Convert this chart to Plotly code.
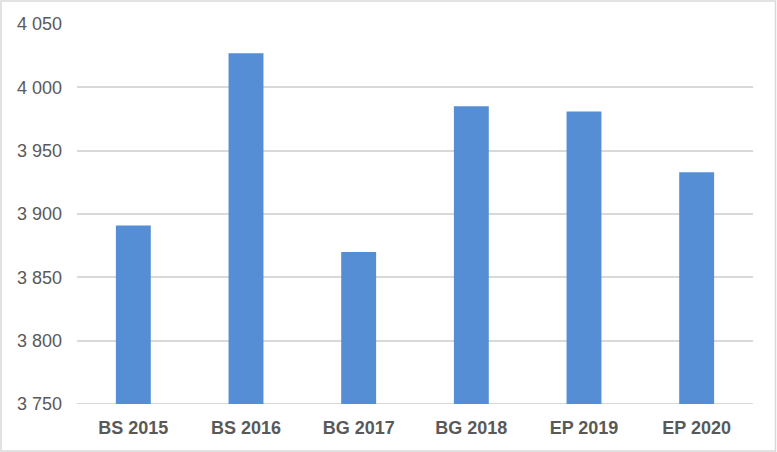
import plotly.graph_objects as go

# values
categories = ['BS 2015', 'BS 2016', 'BG 2017', 'BG 2018', 'EP 2019', 'EP 2020']
values = [3891, 4027, 3870, 3985, 3981, 3933]

W, H = 777, 452
ML, MR, MT, MB = 77, 24, 24, 48
pw = W - ML - MR
ph = H - MT - MB

fig = go.Figure(go.Bar(
    x=categories,
    y=values,
    marker_color='#558ed5',
    marker_line_width=0,
    hoverinfo='x+y',
))

fig.update_layout(
    width=W,
    height=H,
    margin=dict(l=ML, r=MR, t=MT, b=MB),
    paper_bgcolor='white',
    plot_bgcolor='white',
    bargap=0.69,
    separators='. ',
    showlegend=False,
    font=dict(family='Liberation Sans, Arial, sans-serif', size=18, color='#595959'),
    xaxis=dict(
        showgrid=False,
        showline=False,
        ticks='',
        ticklabelstandoff=11,
        tickfont=dict(family='Liberation Sans, Arial, sans-serif', size=18, color='#595959', weight='bold'),
    ),
    yaxis=dict(
        range=[3750, 4050],
        dtick=50,
        tick0=3750,
        showgrid=True,
        gridcolor='#d9d9d9',
        gridwidth=2,
        zeroline=False,
        showline=False,
        ticks='',
        ticklabelstandoff=14,
        separatethousands=True,
        tickformat=',d',
    ),
    shapes=[
        # outer chart border
        dict(type='rect', xref='paper', yref='paper',
             x0=-(ML - 1) / pw, x1=1 + (MR - 1.5) / pw,
             y0=-(MB - 1) / ph, y1=1 + (MT - 1) / ph,
             line=dict(color='#d9d9d9', width=1.5), fillcolor='rgba(0,0,0,0)', layer='above'),
        # baseline grid line drawn over bar bottoms
        dict(type='line', xref='paper', yref='y', x0=0, x1=1, y0=3750, y1=3750,
             line=dict(color='#d9d9d9', width=2), layer='below'),
    ],
)

# drop the default page margin so the figure sits at the window corner
fig.write_html('out.html', config={'displayModeBar': False},
               post_script="document.body.style.margin='0';")
